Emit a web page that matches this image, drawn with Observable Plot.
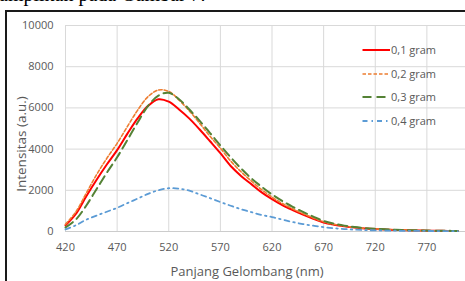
<!DOCTYPE html>
<html>
<head>
<meta charset="utf-8">
<script src="https://cdn.jsdelivr.net/npm/d3@7"></script>
<script src="https://cdn.jsdelivr.net/npm/@observablehq/plot@0.6"></script>
<style>
  html, body { margin: 0; padding: 0; background: #fff; }
  body { width: 465px; height: 281px; overflow: hidden; position: relative; font-family: "Open Sans", sans-serif; }
  #caption { position: absolute; left: -1px; top: -16px; font-family: "Liberation Serif", "Times New Roman", serif; font-size: 20px; line-height: 20px; color: #000; white-space: nowrap; }
  #frame { position: absolute; left: 5px; top: 10px; width: 500px; height: 300px; border-left: 2px solid #1a1a1a; border-top: 2px solid #1a1a1a; }
  #chart { position: absolute; left: 0; top: 0; width: 490px; height: 281px; }
  #chart svg { max-width: none !important; width: 490px; height: 281px; }
  .ttl { position: absolute; color: #595959; white-space: nowrap; font-size: 13px; }
  #ylab { left: 20.5px; top: 144px; transform: translate(-50%, -50%) rotate(-90deg); font-size: 13.5px; }
  #xlab { left: 247px; top: 271px; transform: translate(-50%, -50%); }
  #legend { position: absolute; left: 362px; top: 41px; }
  .item { position: absolute; left: 0; height: 18px; white-space: nowrap; }
  .item svg { position: absolute; left: 0; top: 0; }
  .item span { position: absolute; left: 29px; top: 1px; font-size: 11px; line-height: 16px; color: #595959; }
</style>
</head>
<body>
<div id="caption">ampilkan pada Gambar 7.</div>
<div id="frame"></div>
<div id="chart"></div>
<div class="ttl" id="ylab">Intensitas (a.u.)</div>
<div class="ttl" id="xlab">Panjang Gelombang (nm)</div>
<div id="legend"></div>
<script>
const wavelengths = [420,430,440,450,460,470,480,490,500,510,520,530,540,550,560,570,580,590,600,610,620,630,640,650,660,670,680,690,700,710,720,730,740,750,760,770,780,790,800];
const g01 = [300,850,1700,2500,3250,3950,4750,5500,6100,6420,6300,5920,5480,4950,4380,3800,3180,2700,2300,1900,1570,1280,1040,820,620,440,330,250,190,150,120,95,75,60,50,40,35,30,25];
const g02 = [350,950,1850,2750,3550,4280,5100,5900,6550,6870,6800,6380,5850,5250,4620,4050,3420,2900,2450,2030,1670,1360,1100,870,660,470,350,265,200,155,125,100,80,65,52,43,36,31,27];
const g03 = [200,580,1250,2050,2850,3600,4450,5300,6100,6600,6730,6420,5920,5370,4780,4180,3600,3060,2580,2170,1800,1480,1200,950,720,510,380,285,215,165,130,105,85,68,55,45,38,32,28];
const g04 = [100,300,570,770,960,1150,1380,1600,1830,2000,2100,2080,1980,1800,1620,1430,1250,1080,940,800,700,580,460,360,280,210,160,120,90,70,55,45,38,32,28,25,22,20,18];
const seriesNames = ["0,1 gram","0,2 gram","0,3 gram","0,4 gram"];
const seriesValues = [g01, g02, g03, g04];
const xTicks = [420,470,520,570,620,670,720,770];
const xGrid = [420,470,520,570,620,670,720,770,820];
const yTicks = [0,2000,4000,6000,8000,10000];

const styles = [
  {stroke: "#ff0000", strokeWidth: 2, dash: null},
  {stroke: "#ed7d31", strokeWidth: 1.6, dash: "3.5,2"},
  {stroke: "#548235", strokeWidth: 2, dash: "9,5"},
  {stroke: "#5b9bd5", strokeWidth: 1.8, dash: "5,4,1.5,4"}
];

const rows = [];
seriesNames.forEach((name, i) => {
  wavelengths.forEach((w, j) => rows.push({series: name, nm: w, val: seriesValues[i][j]}));
});

const lineMarks = seriesNames.map((name, i) =>
  Plot.line(rows.filter(r => r.series === name), {
    x: "nm", y: "val", stroke: styles[i].stroke, strokeWidth: styles[i].strokeWidth,
    strokeDasharray: styles[i].dash, curve: "catmull-rom"
  })
);

const chart = Plot.plot({
  width: 490,
  height: 281,
  marginLeft: 65,
  marginRight: 12,
  marginTop: 25,
  marginBottom: 50,
  style: {fontFamily: "Open Sans, sans-serif", fontSize: "11px", color: "#595959", background: "transparent", overflow: "visible", maxWidth: "none"},
  x: {domain: [420, 820]},
  y: {domain: [0, 10000]},
  marks: [
    Plot.ruleX(xGrid, {stroke: "#d9d9d9", strokeWidth: 1}),
    Plot.ruleY(yTicks.filter(d => d > 0), {stroke: "#d9d9d9", strokeWidth: 1}),
    Plot.ruleY([0], {stroke: "#cccccc", strokeWidth: 1}),
    Plot.axisX(xTicks, {tickSize: 0, tickPadding: 12, label: null, tickFormat: d => String(d), fill: "#595959"}),
    Plot.axisY(yTicks, {tickSize: 0, tickPadding: 12, label: null, tickFormat: d => String(d), fill: "#595959"}),
    ...lineMarks
  ]
});
document.getElementById("chart").appendChild(chart);

const legend = document.getElementById("legend");
seriesNames.forEach((name, i) => {
  const item = document.createElement("div");
  item.className = "item";
  item.style.top = (i * 23.7) + "px";
  const s = styles[i];
  item.innerHTML = `<svg width="28" height="18"><line x1="0.5" x2="28" y1="9" y2="9" stroke="${s.stroke}" stroke-width="${s.strokeWidth}" ${s.dash ? `stroke-dasharray="${s.dash}"` : ""}/></svg><span>${name}</span>`;
  legend.appendChild(item);
});
</script>
</body>
</html>
